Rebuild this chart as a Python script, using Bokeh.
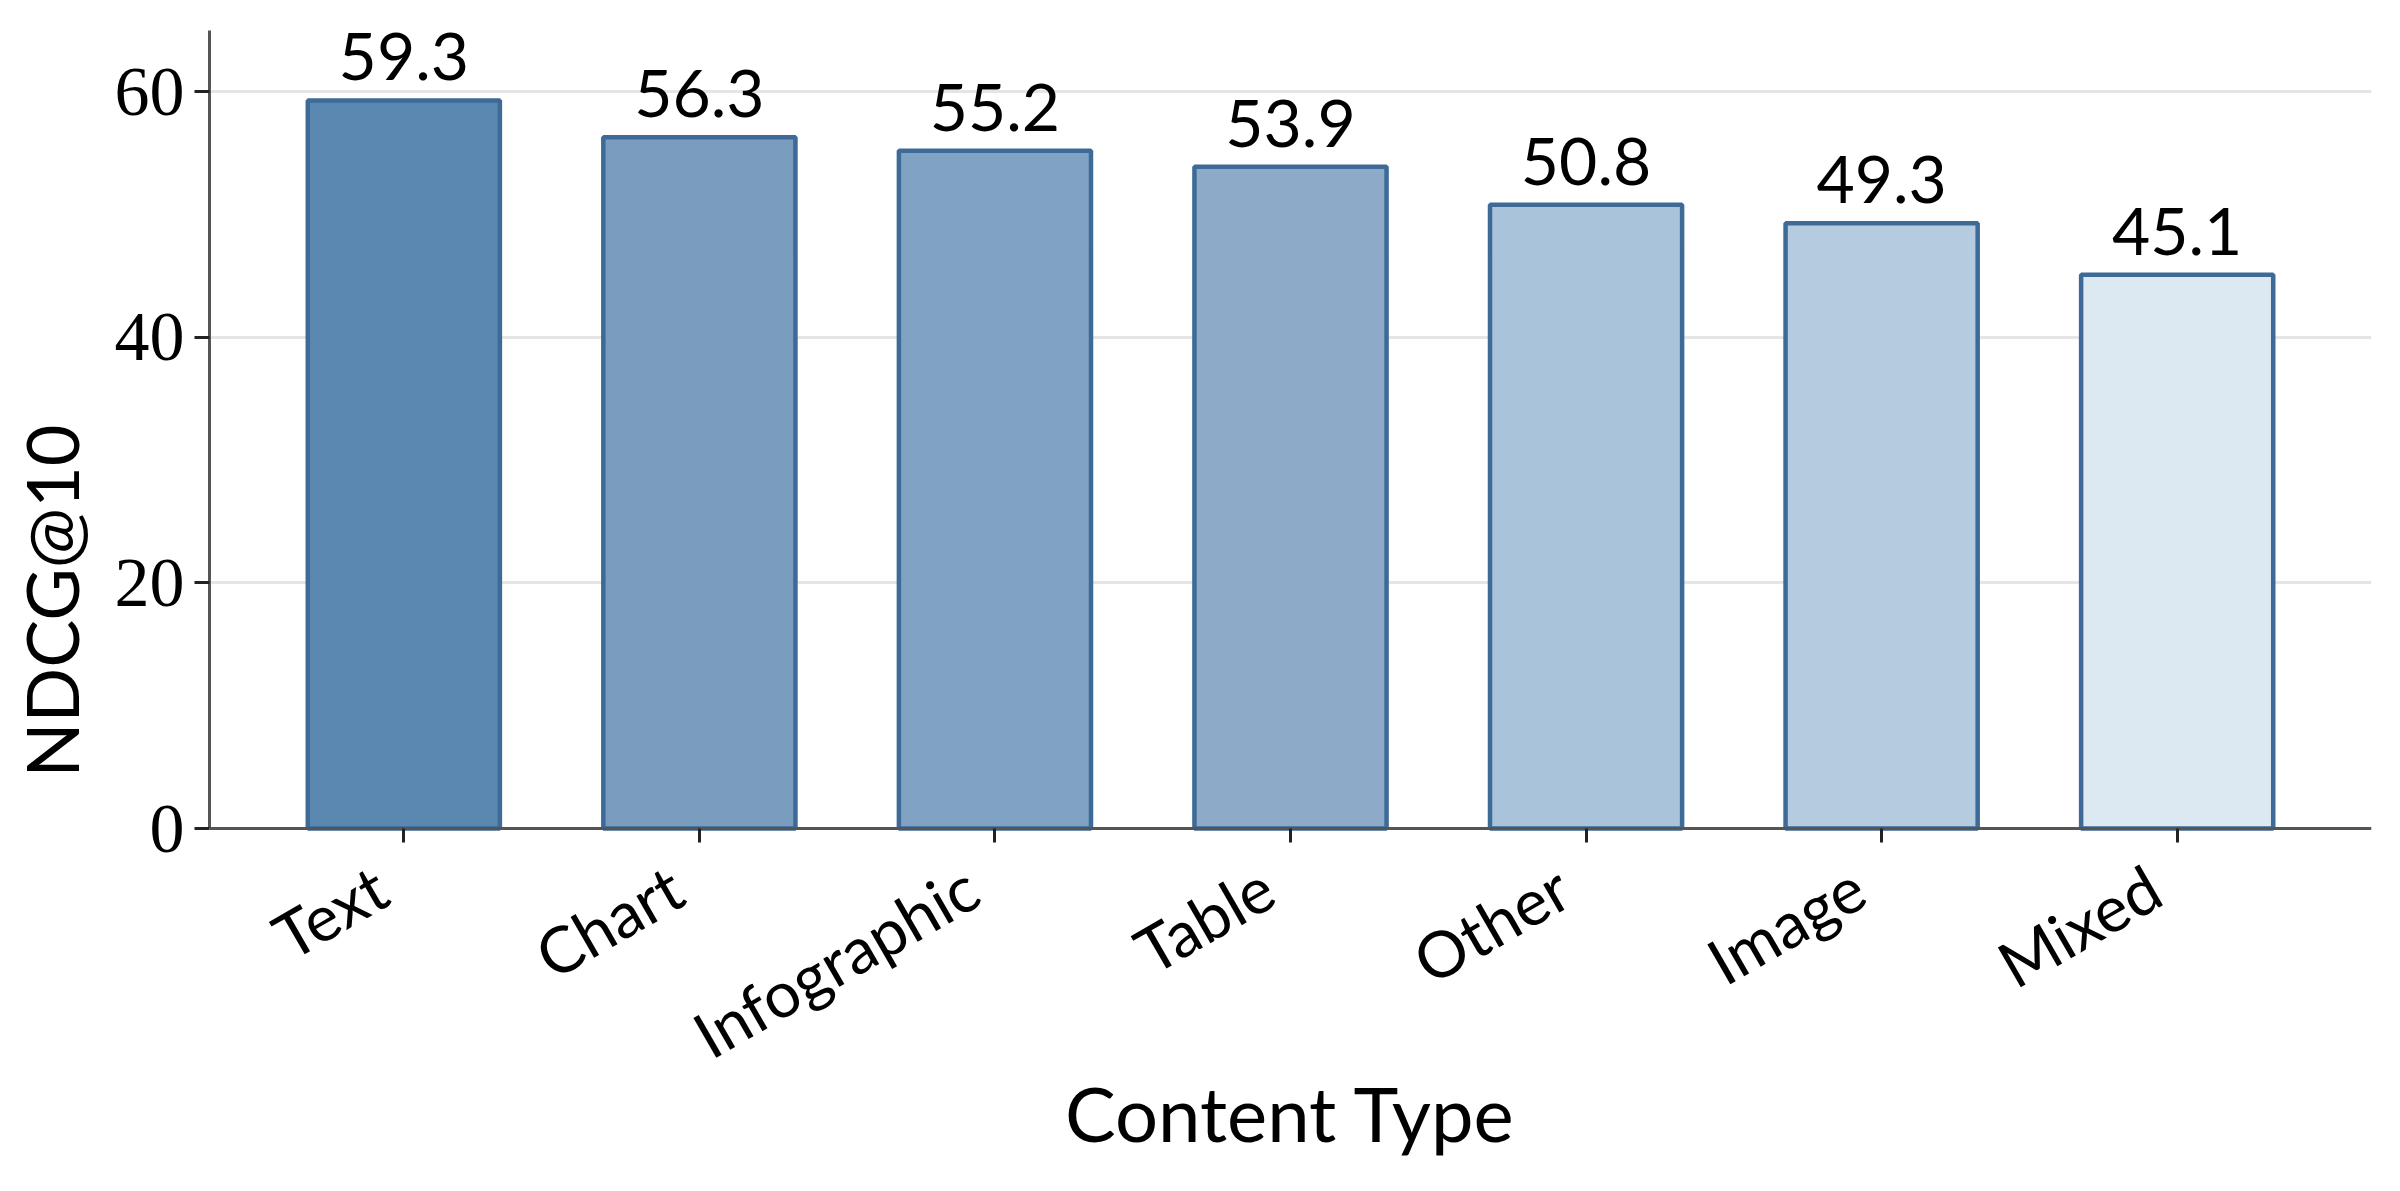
import math
from bokeh.plotting import figure
from bokeh.models import Range1d, FixedTicker, ColumnDataSource, LabelSet
from bokeh.core.properties import value
from bokeh.embed import file_html
from bokeh.resources import INLINE

categories = ["Text", "Chart", "Infographic", "Table", "Other", "Image", "Mixed"]
scores = [59.3, 56.3, 55.2, 53.9, 50.8, 49.3, 45.1]
bar_colors = ["#5b88b0", "#7a9dbf", "#80a3c4", "#8dabc8", "#a9c3da", "#b5cbe0", "#dce8f2"]
y_ticks = [0, 20, 40, 60]
y_max = 65

SANS = "Lato"
SERIF = "Liberation Serif"

# layout in pixels
W, H = 2384, 1175
B_LEFT, B_RIGHT, B_TOP = 209, 13, 30
ZERO_PX = 828          # canvas y of the value 0 line
B_BOTTOM = 4
px_per_unit = (ZERO_PX - B_TOP) / y_max
y_min = -((H - B_BOTTOM) - ZERO_PX) / px_per_unit

xs = list(range(len(categories)))
src = ColumnDataSource(dict(
    x=xs, top=scores, color=bar_colors, zero=[0] * len(xs),
    label=[f"{v:.1f}" for v in scores], cat=categories,
))

p = figure(width=W, height=H, output_backend="svg", toolbar_location=None,
           x_range=Range1d(-0.6575, len(categories) - 1 + 0.6575),
           y_range=Range1d(y_min, y_max),
           min_border_left=B_LEFT, min_border_right=B_RIGHT,
           min_border_top=B_TOP, min_border_bottom=B_BOTTOM)
p.outline_line_color = None
p.background_fill_color = "white"
p.border_fill_color = "white"

p.vbar(x="x", top="top", bottom=0, width=0.65, source=src,
       fill_color="color", fill_alpha=1.0,
       line_color="#3d6a96", line_width=4.5)

# value labels above the bars
p.add_layout(LabelSet(x="x", y="top", text="label", source=src,
                      text_font=value(SANS), text_font_size="66px", text_color="black",
                      text_align="center", text_baseline="alphabetic", y_offset=20))

# rotated category labels under the ticks
p.add_layout(LabelSet(x="x", y="zero", text="cat", source=src,
                      text_font=value(SANS), text_font_size="64px", text_color="black",
                      text_align="right", text_baseline="top",
                      angle=math.pi / 6, x_offset=-42, y_offset=-20))

# grid
p.xgrid.grid_line_color = None
p.ygrid.ticker = FixedTicker(ticks=y_ticks)
p.ygrid.grid_line_color = "#e5e5e5"
p.ygrid.grid_line_width = 3

# x axis, pinned at value 0
xa = p.xaxis[0]
xa.fixed_location = 0
xa.ticker = FixedTicker(ticks=xs)
xa.major_label_overrides = {i: "" for i in xs}
xa.major_label_text_font_size = "1px"
xa.major_label_standoff = 0
xa.major_tick_in = 0
xa.major_tick_out = 14
xa.major_tick_line_width = 3
xa.major_tick_line_color = "#222222"
xa.minor_tick_line_color = None
xa.axis_line_color = "#555555"
xa.axis_line_width = 3
xa.axis_label = "Content Type"
xa.axis_label_text_font = SANS
xa.axis_label_text_font_size = "76px"
xa.axis_label_text_font_style = "normal"
xa.axis_label_text_color = "black"
xa.axis_label_standoff = 224

# y axis
ya = p.yaxis[0]
ya.bounds = (0, y_max)
ya.ticker = FixedTicker(ticks=y_ticks)
ya.major_label_text_font = SERIF
ya.major_label_text_font_size = "70px"
ya.major_label_text_color = "black"
ya.major_label_standoff = 10
ya.major_tick_in = 0
ya.major_tick_out = 15
ya.major_tick_line_width = 3
ya.major_tick_line_color = "#222222"
ya.minor_tick_line_color = None
ya.axis_line_color = "#555555"
ya.axis_line_width = 3
ya.axis_label = "NDCG@10"
ya.axis_label_text_font = SANS
ya.axis_label_text_font_size = "72px"
ya.axis_label_text_font_style = "normal"
ya.axis_label_text_color = "black"
ya.axis_label_standoff = 18

open("out.html", "w").write(file_html(p, INLINE))
